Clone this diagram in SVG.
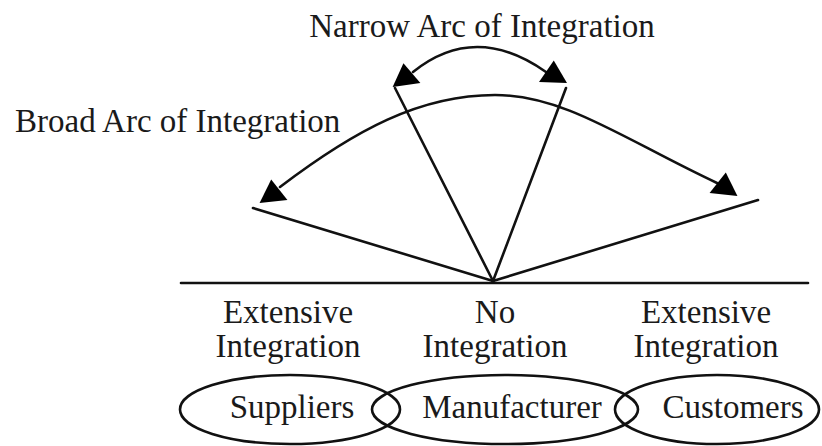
<svg xmlns="http://www.w3.org/2000/svg" xmlns:xlink="http://www.w3.org/1999/xlink" width="822" height="446" viewBox="0 0 822 446">
<style>
  text { font-family: "Liberation Serif", "Times New Roman", serif; font-size: 33px; fill: #1a1a1a; }
  .mid { text-anchor: middle; }
  .ln { fill: none; stroke: #111; stroke-width: 2.6; stroke-linecap: round; }
  .ell { fill: none; stroke: #111; stroke-width: 2.6; }
  .head { fill: #000; }
</style>
<defs>
  <path id="tri" class="head" d="M0,-22 L14,0 L-14,0 Z"/>
</defs>
<rect width="822" height="446" fill="#fff"/>

<g id="connectors">
  <line class="ln" x1="181" y1="283" x2="808" y2="283"/>
  <line class="ln" x1="253" y1="208" x2="493" y2="281"/>
  <line class="ln" x1="758" y1="200" x2="493" y2="281"/>
  <line class="ln" x1="395" y1="88" x2="493" y2="281"/>
  <line class="ln" x1="566" y1="88" x2="493" y2="281"/>
  <path class="ln" d="M413,72 Q475,22 546,72"/>
  <path class="ln" d="M280,187 C355,130 420,95 495,95 C565,95 625,140 717,183"/>
  <use xlink:href="#tri" transform="translate(406.5,85) rotate(-8)"/>
  <use xlink:href="#tri" transform="translate(553,82.5) rotate(2)"/>
  <use xlink:href="#tri" transform="translate(273.5,201.5) rotate(-6)"/>
  <use xlink:href="#tri" transform="translate(723.5,194.5) rotate(6)"/>
</g>

<g id="narrow-label"><text class="mid" x="482" y="37">Narrow Arc of Integration</text></g>
<g id="broad-label"><text x="15" y="132">Broad Arc of Integration</text></g>

<g id="label-left">
  <text class="mid" x="288" y="323">Extensive</text>
  <text class="mid" x="288" y="357">Integration</text>
</g>
<g id="label-mid">
  <text class="mid" x="495" y="323">No</text>
  <text class="mid" x="495" y="357">Integration</text>
</g>
<g id="label-right">
  <text class="mid" x="706" y="323">Extensive</text>
  <text class="mid" x="706" y="357">Integration</text>
</g>

<g id="suppliers">
  <ellipse class="ell" cx="290" cy="409.5" rx="110" ry="34.5"/>
  <text class="mid" x="292" y="418">Suppliers</text>
</g>
<g id="manufacturer">
  <ellipse class="ell" cx="505" cy="409.5" rx="133" ry="34.5"/>
  <text class="mid" x="512" y="418">Manufacturer</text>
</g>
<g id="customers">
  <ellipse class="ell" cx="717" cy="409.5" rx="102" ry="34.5"/>
  <text class="mid" x="733" y="418">Customers</text>
</g>
</svg>
